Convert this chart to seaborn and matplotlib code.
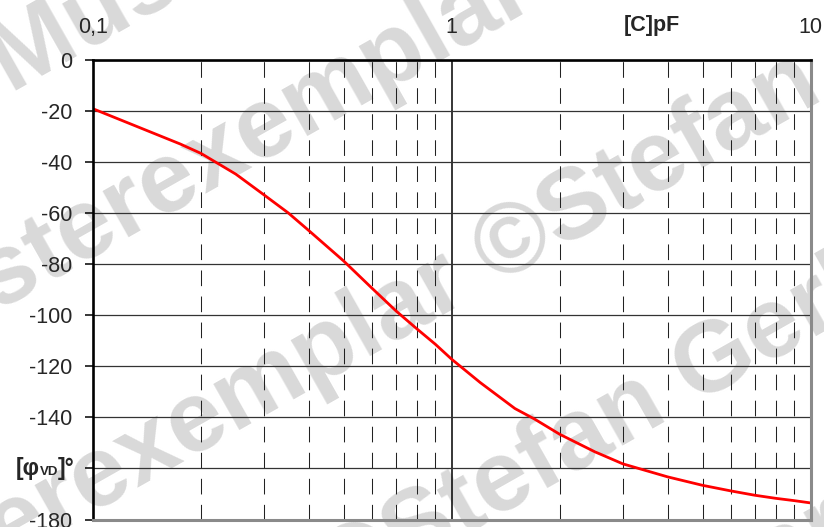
import numpy as np
import pandas as pd
import seaborn as sns
import matplotlib.pyplot as plt
from matplotlib.ticker import LogLocator, NullFormatter
from matplotlib.offsetbox import TextArea, HPacker, AnnotationBbox

# capacitance [pF] and phase [deg]
cap_pf = [0.1, 0.125, 0.15, 0.175, 0.2, 0.25, 0.3, 0.35, 0.4, 0.5, 0.6, 0.7,
          0.8, 0.9, 1.0, 1.2, 1.5, 1.7, 2.0, 2.5, 3.0, 4.0, 5.0, 6.0, 7.0,
          8.0, 9.0, 10.0]
phase_deg = [-19.0, -24.5, -29.0, -32.8, -36.5, -44.6, -52.8, -59.8, -66.8,
             -78.7, -89.4, -98.3, -105.3, -111.3, -117.2, -126.3, -136.5,
             -140.6, -146.6, -153.4, -158.2, -163.3, -166.6, -168.8, -170.5,
             -171.7, -172.6, -173.5]

x_ticks = [0.1, 1, 10]
x_labels = ['0,1', '1', '10']
y_ticks = [0, -20, -40, -60, -80, -100, -120, -140, -160, -180]
y_labels = ['0', '-20', '-40', '-60', '-80', '-100', '-120', '-140', '', '-180']

watermark = 'Musterexemplar ©Stefan Gerhard'
# anchor of each watermark line, pixels from the top-left corner
wm_x = [-2, -141, -209, -364, -486]
wm_y = [71, 360, 654, 974, 1273]

df = pd.DataFrame({'C': cap_pf, 'phi': phase_deg})

sns.set_style('white')
plt.rcParams['font.family'] = ['Liberation Sans', 'DejaVu Sans']

W, H = 824, 527
fig = plt.figure(figsize=(W / 100, H / 100), dpi=100)
fig.patch.set_facecolor('white')

for wx, wy in zip(wm_x, wm_y):
    fig.text(wx / W, 1 - wy / H, watermark, rotation=29.5, rotation_mode='anchor',
             ha='left', va='center', fontsize=72, fontweight='bold',
             color='#d9d9d9', zorder=-5)

ax = fig.add_axes([93 / W, 1 - 519.5 / H, (810.5 - 93) / W, (519.5 - 60.3) / H])
ax.set_facecolor('none')

sns.lineplot(data=df, x='C', y='phi', color='red', lw=2.0, ax=ax)

ax.set_xscale('log')
ax.set_xlim(0.1, 10)
ax.set_ylim(-180, 0)
ax.set_xlabel('')
ax.set_ylabel('')

ax.xaxis.tick_top()
ax.set_xticks(x_ticks)
ax.set_xticklabels(x_labels)
ax.xaxis.set_minor_locator(LogLocator(base=10, subs=range(2, 10)))
ax.xaxis.set_minor_formatter(NullFormatter())
ax.tick_params(axis='x', which='both', length=0, pad=16, labelsize=15.5)

ax.set_yticks(y_ticks)
ax.set_yticklabels(y_labels)
ax.tick_params(axis='y', which='major', left=True, length=6, width=1.1,
               color='black', pad=9, labelsize=15.5, direction='out')

ax.grid(which='major', axis='y', color='#333333', lw=0.9)
ax.grid(which='major', axis='x', color='black', lw=1.1)
ax.grid(which='minor', axis='x', color='#222222', lw=0.75, ls=(0, (15, 10)))

for side in ['top', 'left']:
    ax.spines[side].set_color('black')
    ax.spines[side].set_linewidth(1.9)
for side in ['bottom', 'right']:
    ax.spines[side].set_color('#8a8a8a')
    ax.spines[side].set_linewidth(2.2)

# axis titles
fig.text(652 / W, 1 - 31.5 / H, '[C]pF', ha='center', va='baseline',
         fontsize=15.5, fontweight='bold')

ylab = HPacker(children=[
    TextArea('[φ', textprops=dict(fontsize=16.5, fontweight='bold')),
    TextArea('VD', textprops=dict(fontsize=9.5, fontweight='bold')),
    TextArea(']°', textprops=dict(fontsize=16.5, fontweight='bold')),
], align='baseline', pad=0, sep=0)
ab = AnnotationBbox(ylab, (0, -160), xycoords=('axes fraction', 'data'),
                    xybox=(-13, 0), boxcoords='offset points',
                    box_alignment=(1, 0.5), frameon=False, pad=0)
ax.add_artist(ab)

plt.savefig('out.png', dpi=100)
